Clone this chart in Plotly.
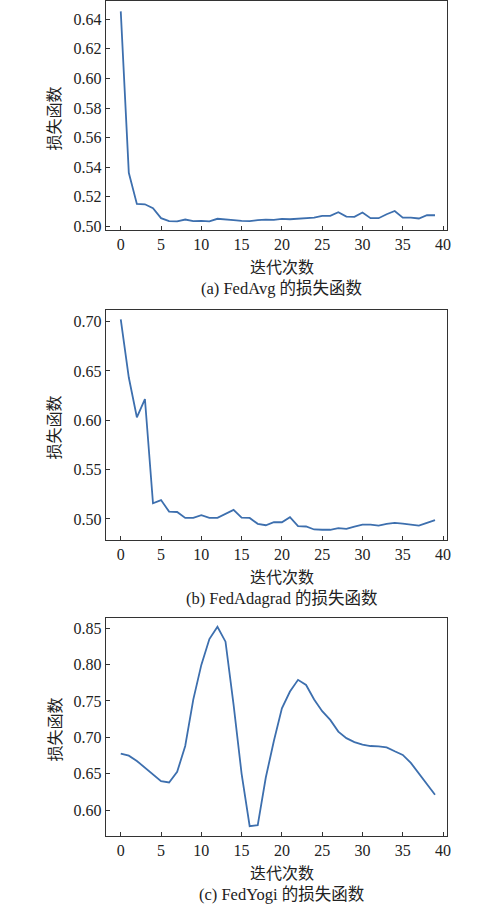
import plotly.graph_objects as go

iters = list(range(40))

fedavg = [0.6453, 0.5363, 0.5152, 0.5150, 0.5123, 0.5056, 0.5036, 0.5034, 0.5047, 0.5036,
          0.5038, 0.5034, 0.5052, 0.5045, 0.5043, 0.5038, 0.5036, 0.5043, 0.5047, 0.5045,
          0.5052, 0.5049, 0.5052, 0.5058, 0.5060, 0.5072, 0.5072, 0.5096, 0.5067, 0.5065,
          0.5094, 0.5056, 0.5056, 0.5083, 0.5105, 0.5060, 0.5060, 0.5054, 0.5076, 0.5076]

fedadagrad = [0.7023, 0.6433, 0.6030, 0.6215, 0.5158, 0.5191, 0.5074, 0.5070, 0.5010, 0.5010,
              0.5037, 0.5010, 0.5010, 0.5047, 0.5091, 0.5013, 0.5010, 0.4950, 0.4936, 0.4966,
              0.4966, 0.5017, 0.4926, 0.4923, 0.4893, 0.4890, 0.4890, 0.4906, 0.4900, 0.4923,
              0.4943, 0.4943, 0.4933, 0.4950, 0.4960, 0.4953, 0.4946, 0.4933, 0.4960, 0.4987]

fedyogi = [0.6777, 0.6750, 0.6677, 0.6582, 0.6486, 0.6400, 0.6382, 0.6527, 0.6882, 0.7518,
           0.7995, 0.8350, 0.8518, 0.8314, 0.7450, 0.6500, 0.5782, 0.5795, 0.6450, 0.6950,
           0.7400, 0.7630, 0.7790, 0.7720, 0.7520, 0.7360, 0.7240, 0.7080, 0.6990, 0.6936,
           0.6900, 0.6882, 0.6877, 0.6864, 0.6810, 0.6760, 0.6650, 0.6509, 0.6360, 0.6214]

series = [fedavg, fedadagrad, fedyogi]
captions = ["(a) FedAvg 的损失函数", "(b) FedAdagrad 的损失函数", "(c) FedYogi 的损失函数"]
x_title = "迭代次数"
y_title = "损失函数"
y_ranges = [[0.4975, 0.652], [0.4789, 0.7115], [0.5645, 0.864]]
y_dticks = [0.02, 0.05, 0.05]
x_ticks = [0, 5, 10, 15, 20, 25, 30, 35, 40]

W, H = 500, 911
# panel boxes in pixels (top, bottom)
boxes = [(0.5, 230.7), (311.3, 542.3), (621.0, 840.7)]
left_px, right_px = 106.7, 450.7

FONT = "'Liberation Serif', 'Times New Roman', 'Noto Sans CJK SC', serif"
LINE = "#3d6fae"
AX = "#333333"

fig = go.Figure()
annotations = []
for i, (vals, cap) in enumerate(zip(series, captions)):
    n = "" if i == 0 else str(i + 1)
    fig.add_trace(go.Scatter(x=iters, y=vals, mode="lines",
                             line=dict(color=LINE, width=1.8),
                             xaxis="x" + n, yaxis="y" + n, showlegend=False))
    top, bot = boxes[i]
    common = dict(showline=True, linecolor=AX, linewidth=1.2, mirror=True,
                  ticks="inside", ticklen=4, tickwidth=1, tickcolor=AX,
                  showgrid=False, zeroline=False,
                  tickfont=dict(family=FONT, size=16, color="#222"))
    fig.layout["xaxis" + n] = dict(domain=[left_px / W, right_px / W],
                                   anchor="y" + n, range=[-1.85, 40.5],
                                   tickvals=x_ticks, **common)
    fig.layout["yaxis" + n] = dict(domain=[1 - bot / H, 1 - top / H],
                                   anchor="x" + n, range=y_ranges[i],
                                   dtick=y_dticks[i], tick0=0, tickformat=".2f",
                                   **common)
    annotations.append(dict(text=x_title, xref="paper", yref="paper",
                            x=(122 + 447) / 2 / W, y=1 - (bot + 38) / H,
                            showarrow=False, xanchor="center", yanchor="middle",
                            font=dict(family=FONT, size=16, color="#222")))
    annotations.append(dict(text=cap, xref="paper", yref="paper",
                            x=(122 + 447) / 2 / W, y=1 - (bot + 59) / H,
                            showarrow=False, xanchor="center", yanchor="middle",
                            font=dict(family=FONT, size=16.5, color="#222")))
    annotations.append(dict(text=y_title, xref="paper", yref="paper",
                            x=55 / W, y=1 - ((top + bot) / 2 + 3) / H,
                            textangle=-90, showarrow=False,
                            xanchor="center", yanchor="middle",
                            font=dict(family=FONT, size=16, color="#222")))

fig.update_layout(width=W, height=H, margin=dict(l=0, r=0, t=0, b=0),
                  paper_bgcolor="white", plot_bgcolor="white",
                  annotations=annotations)

fig.write_html("out.html", config={"displayModeBar": False},
               post_script="document.body.style.margin='0';document.body.style.overflow='hidden';")
